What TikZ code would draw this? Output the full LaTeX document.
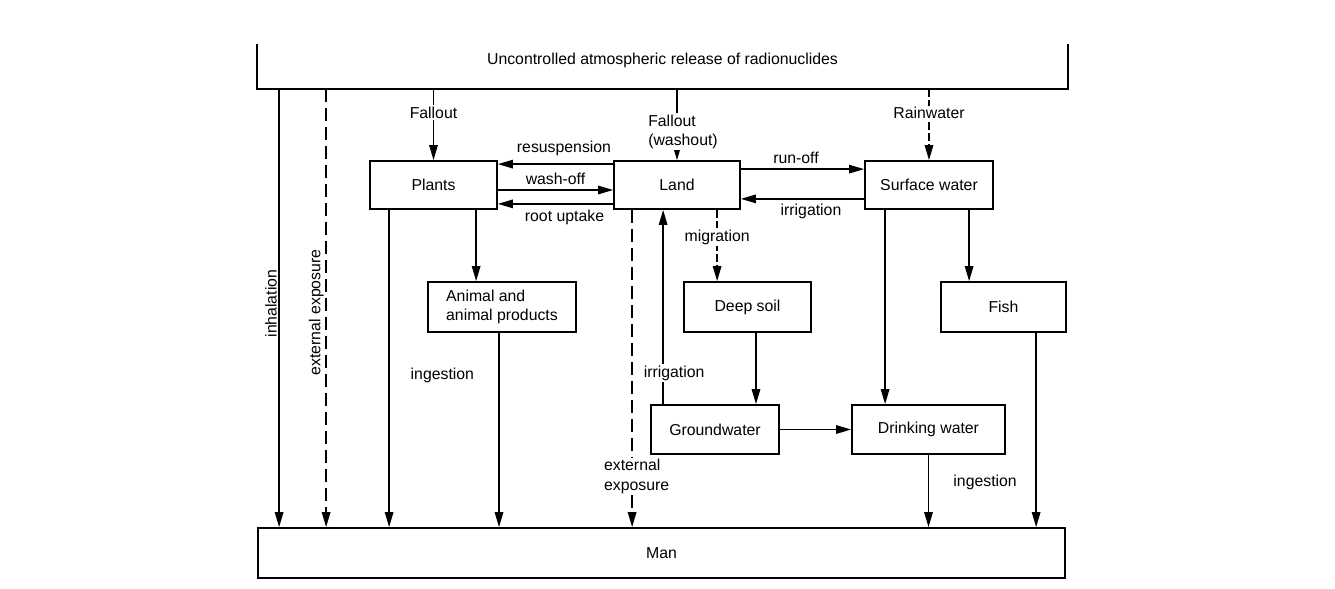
\documentclass[tikz,border=0pt]{standalone}
\usepackage{fontspec}
\setmainfont{Liberation Sans}
\usetikzlibrary{arrows.meta,positioning}

\begin{document}
\begin{tikzpicture}[x=0.2mm,y=-0.2mm,
  comp/.style={draw,line width=1pt,minimum height=9.8mm,inner sep=1pt,align=center,
    font=\fontsize{9}{11}\selectfont},
  lbl/.style={font=\fontsize{9}{11}\selectfont,inner sep=1pt,align=left},
  cut/.style={lbl,fill=white},
  arr/.style={-{Triangle[length=3mm,width=1.7mm]},line width=0.8pt},
  darr/.style={arr,dash pattern=on 2.6mm off 1.2mm},
  sdarr/.style={arr,dash pattern=on 1.6mm off 0.6mm}]
  \useasboundingbox (0,0) rectangle (1335,588);
  \node[comp,draw=none,minimum width=161.8mm,minimum height=8.6mm] (release) at (662.5,66.5) {};
  \node[lbl] (releasetxt) at (662.5,60) {Uncontrolled atmospheric release of radionuclides};
  \draw[line width=1pt] (release.north west) |- (release.south east) -- (release.north east);
  \node[comp,minimum width=25.4mm,minimum height=9.6mm] (plants) at (433.5,185) {Plants};
  \node[comp,minimum width=25.2mm,minimum height=9.6mm] (land) at (677,185) {Land};
  \node[comp,minimum width=25.6mm,minimum height=9.6mm] (surface) at (929,185) {Surface water};
  \node[comp,minimum width=29.6mm,minimum height=10mm,align=left] (animal) at (502,307) {Animal and\\animal products};
  \node[comp,minimum width=25.4mm,minimum height=10mm] (deepsoil) at (747.5,307) {Deep soil};
  \node[comp,minimum width=25mm,minimum height=10mm] (fish) at (1003.5,307) {Fish};
  \node[comp,minimum width=25.6mm] (ground) at (715,429.5) {Groundwater};
  \node[comp,minimum width=30.6mm] (drinking) at (928.5,429.5) {Drinking water};
  \node[comp,minimum width=161.4mm,minimum height=10mm] (man) at (661.5,553) {Man};
  \draw[arr] ([xshift=4.4mm]release.south west) --
    node[lbl,pos=.49,rotate=90,anchor=south]{inhalation} ([xshift=4.4mm]release.south west |- man.north);
  \draw[darr] ([xshift=13.8mm]release.south west) --
    node[lbl,pos=.51,rotate=90,anchor=south]{external exposure} ([xshift=13.8mm]release.south west |- man.north);
  \draw[arr] (release.south -| plants.north) -- node[cut,pos=.33]{Fallout} (plants.north);
  \draw[arr] (release.south -| land.north) -- node[cut,pos=.6,xshift=1.2mm]{Fallout\\(washout)} (land.north);
  \draw[sdarr] (release.south -| surface.north) -- node[cut,pos=.34]{Rainwater} (surface.north);
  \draw[arr] ([yshift=-0.8mm]land.north west) --
    node[lbl,above=1.2mm,xshift=1.7mm]{resuspension} ([yshift=-0.8mm]land.north west -| plants.east);
  \draw[arr] ([yshift=-1mm]plants.east) -- node[lbl,above=0.6mm]{wash-off} ([yshift=-1mm]land.west);
  \draw[arr] ([yshift=1.2mm]land.south west) --
    node[lbl,below=0.8mm,xshift=1.8mm]{root uptake} ([yshift=1.2mm]land.south west -| plants.east);
  \draw[arr] ([yshift=-1.8mm]land.north east) --
    node[lbl,above=0.6mm,xshift=-1.3mm]{run-off} ([yshift=-1.8mm]land.north east -| surface.west);
  \draw[arr] ([yshift=2.2mm]surface.south west) --
    node[lbl,below=0.5mm,xshift=1.7mm]{irrigation} ([yshift=2.2mm]surface.south west -| land.east);
  \draw[arr] ([xshift=4mm]plants.south west) -- ([xshift=4mm]plants.south west |- man.north);
  \draw[arr] ([xshift=21.4mm]plants.south west) -- ([xshift=21.4mm]plants.south west |- animal.north);
  \draw[arr] ([xshift=-0.6mm]animal.south) --
    node[lbl,pos=.22,left=4.5mm]{ingestion} ([xshift=-0.6mm]animal.south |- man.north);
  \draw[darr] ([xshift=3.8mm]land.south west) --
    node[cut,pos=.84,xshift=0.9mm]{external\\exposure} ([xshift=3.8mm]land.south west |- man.north);
  \draw[arr] ([xshift=10mm]land.south west |- ground.north) --
    node[cut,pos=.16,xshift=2.2mm]{irrigation} ([xshift=10mm]land.south west);
  \draw[sdarr] ([xshift=20.8mm]land.south west) --
    node[cut,pos=.38]{migration} ([xshift=20.8mm]land.south west |- deepsoil.north);
  \draw[arr] ([xshift=1.7mm]deepsoil.south) -- ([xshift=1.7mm]deepsoil.south |- ground.north);
  \draw[arr] ([xshift=4.2mm]surface.south west) -- ([xshift=4.2mm]surface.south west |- drinking.north);
  \draw[arr] ([xshift=21mm]surface.south west) -- ([xshift=21mm]surface.south west |- fish.north);
  \draw[arr] (ground.east) -- (drinking.west);
  \draw[arr] (drinking.south) -- node[lbl,pos=.38,right=4.5mm]{ingestion} (drinking.south |- man.north);
  \draw[arr] ([xshift=19.2mm]fish.south west) -- ([xshift=19.2mm]fish.south west |- man.north);
\end{tikzpicture}
\end{document}
